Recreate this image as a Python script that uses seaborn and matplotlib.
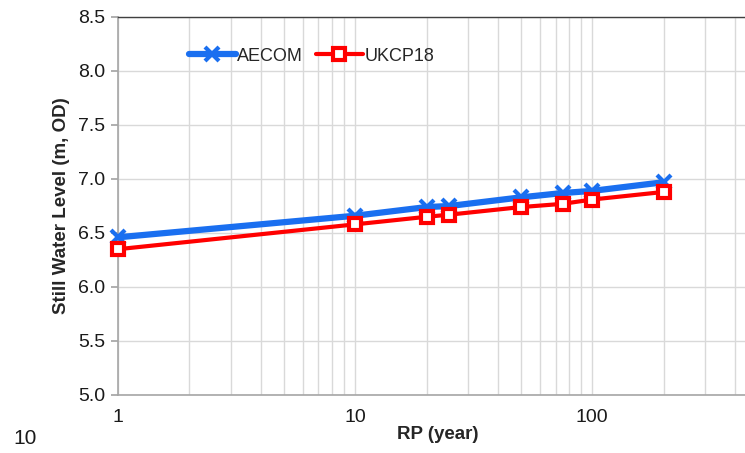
import matplotlib
matplotlib.use("Agg")
import matplotlib.pyplot as plt
import seaborn as sns
import pandas as pd
from matplotlib.ticker import LogLocator, FixedLocator, FormatStrFormatter, NullFormatter

# Return periods and still water levels
rp = [1, 10, 20, 25, 50, 75, 100, 200]
aecom = [6.46, 6.66, 6.74, 6.75, 6.83, 6.87, 6.89, 6.97]
ukcp18 = [6.35, 6.58, 6.65, 6.67, 6.74, 6.77, 6.81, 6.88]

series_names = ["AECOM", "UKCP18"]
y_ticks = [5.0, 5.5, 6.0, 6.5, 7.0, 7.5, 8.0, 8.5]
x_tick_values = [1, 10, 100]

df = pd.DataFrame({
    "RP": rp * 2,
    "level": aecom + ukcp18,
    "series": [series_names[0]] * len(rp) + [series_names[1]] * len(rp),
})

sns.set_theme(style="white")
plt.rcParams["font.family"] = ["Liberation Sans", "DejaVu Sans"]

fig = plt.figure(figsize=(7.45, 4.53), dpi=100)
# axis runs on past the right edge of the picture, as in the reference
ax = fig.add_axes([118 / 745, 1 - 395 / 453, (758 - 118) / 745, 378 / 453])

colors = {"AECOM": "#1a6ff0", "UKCP18": "#ff0000"}

sub = df[df["series"] == "AECOM"]
sns.lineplot(data=sub, x="RP", y="level", ax=ax, color=colors["AECOM"], lw=4.5,
             marker="x", markersize=10, markeredgewidth=3, markeredgecolor=colors["AECOM"],
             label="AECOM", zorder=3, clip_on=False)
sub = df[df["series"] == "UKCP18"]
sns.lineplot(data=sub, x="RP", y="level", ax=ax, color=colors["UKCP18"], lw=3,
             marker="s", markersize=9, markeredgewidth=3, markerfacecolor="white",
             markeredgecolor=colors["UKCP18"], label="UKCP18", zorder=4, clip_on=False)

ax.set_xscale("log")
ax.set_xlim(1, 500)
ax.set_ylim(5.0, 8.5)
ax.xaxis.set_major_locator(FixedLocator(x_tick_values))
ax.xaxis.set_major_formatter(FormatStrFormatter("%d"))
ax.xaxis.set_minor_locator(LogLocator(base=10, subs=range(2, 10)))
ax.xaxis.set_minor_formatter(NullFormatter())
ax.set_yticks(y_ticks)
ax.yaxis.set_major_formatter(FormatStrFormatter("%.1f"))

ax.grid(True, which="major", axis="y", color="#d9d9d9", lw=1)
ax.grid(True, which="both", axis="x", color="#d9d9d9", lw=1)
ax.set_axisbelow(True)

for side in ["left", "bottom"]:
    ax.spines[side].set_color("#a6a6a6")
    ax.spines[side].set_linewidth(1.2)
ax.spines["top"].set_color("#404040")
ax.spines["top"].set_linewidth(1)
ax.spines["right"].set_visible(False)

ax.tick_params(axis="x", which="major", direction="in", length=5, color="#808080",
               labelsize=14, pad=10, labelcolor="#1a1a1a")
ax.tick_params(axis="x", which="minor", length=0)
ax.tick_params(axis="y", which="major", direction="out", length=5, color="#a6a6a6",
               labelsize=14, pad=4, labelcolor="#1a1a1a", left=True)

ax.set_xlabel("RP (year)", fontsize=13.5, fontweight="bold", labelpad=0)
ax.set_ylabel("Still Water Level (m, OD)", fontsize=13.5, fontweight="bold", labelpad=6)

ax.legend(loc="upper left", bbox_to_anchor=(0.085, 0.962), ncol=2, frameon=False,
          fontsize=13, handlelength=2.6, handletextpad=0.1, columnspacing=0.7)

fig.text(13 / 745, 1 - 438 / 453, "10", fontsize=15, va="center", ha="left", color="#1a1a1a")

fig.savefig("out.png", dpi=100)
